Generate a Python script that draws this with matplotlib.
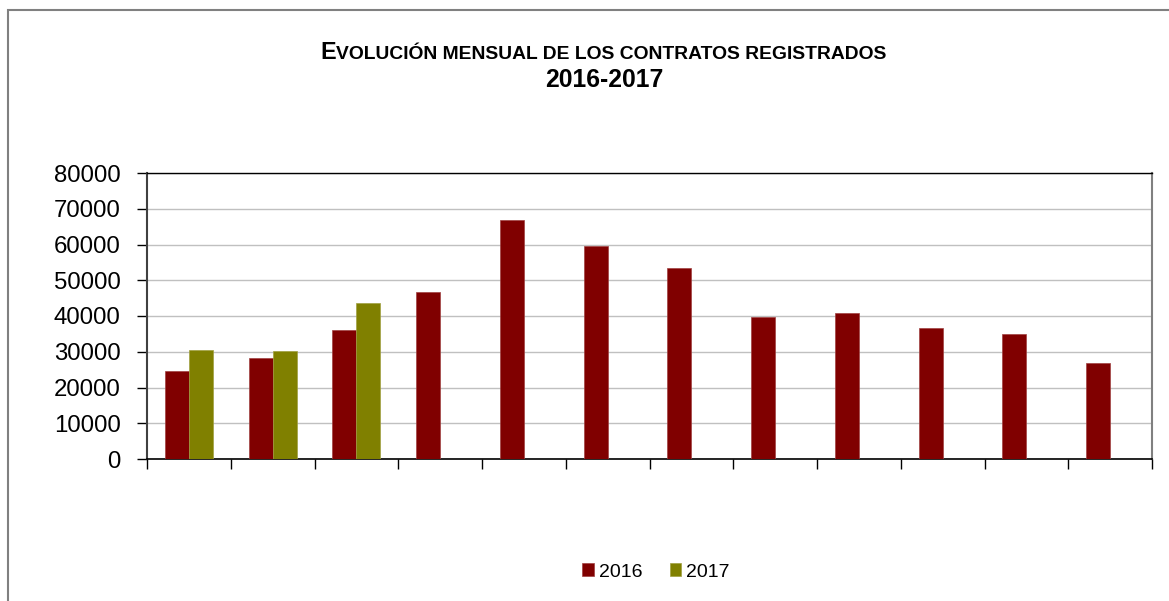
import matplotlib
matplotlib.use("Agg")
import matplotlib.pyplot as plt
import matplotlib.patches as mpatches
import numpy as np

plt.rcParams['font.family'] = ['Liberation Sans', 'DejaVu Sans']

months = ["ene", "feb", "mar", "abr", "may", "jun", "jul", "ago", "sep", "oct", "nov", "dic"]
series_2016 = [24600, 28250, 36200, 46600, 66900, 59700, 53300, 39800, 40750, 36550, 34950, 26750]
series_2017 = [30500, 30300, 43500]
yticks = [0, 10000, 20000, 30000, 40000, 50000, 60000, 70000, 80000]
title_first = "E"
title_rest = "VOLUCIÓN MENSUAL DE LOS CONTRATOS REGISTRADOS"
title_line2 = "2016-2017"
labels = ["2016", "2017"]
colors = ["#800000", "#808000"]

W, H = 1169, 601
fig = plt.figure(figsize=(W / 100, H / 100), dpi=100)
ax = fig.add_axes([147 / W, 1 - 459 / H, (1152 - 147) / W, (459 - 173) / H])

x = np.arange(len(months))
bw = 0.286
ax.bar(x - bw / 2, series_2016, width=bw, color=colors[0], edgecolor="#a04040", linewidth=0.5, label=labels[0], zorder=3)
x17 = np.arange(len(series_2017))
ax.bar(x17 + bw / 2, series_2017, width=bw, color=colors[1], edgecolor="#a0a040", linewidth=0.5, label=labels[1], zorder=3)

ax.set_xlim(-0.5, len(months) - 0.5)
ax.set_ylim(0, 80000)
ax.set_yticks(yticks)
ax.set_yticklabels([str(v) for v in yticks], fontsize=17.3)
ax.set_xticks(np.arange(len(months) + 1) - 0.5)
ax.set_xticklabels([])
ax.tick_params(axis='x', length=7, width=1, direction='out', color='black')
ax.tick_params(axis='y', length=7, width=1, direction='out', color='black', pad=12)
ax.yaxis.grid(True, color="#c0c0c0", linewidth=1, zorder=0)
ax.set_axisbelow(True)
ax.spines['top'].set_color('black')
ax.spines['top'].set_linewidth(1)
ax.spines['bottom'].set_color('black')
ax.spines['bottom'].set_linewidth(1.2)
ax.spines['left'].set_color('#404040')
ax.spines['left'].set_linewidth(1.5)
ax.spines['right'].set_color('#808080')
ax.spines['right'].set_linewidth(1.5)

# Title with small caps effect
renderer = fig.canvas.get_renderer()
y1 = 1 - 59 / H
t1 = fig.text(0, y1, title_first, fontsize=16.8, fontweight='bold', va='baseline', ha='left')
t2 = fig.text(0, y1, title_rest, fontsize=13.9, fontweight='bold', va='baseline', ha='left')
w1 = t1.get_window_extent(renderer).width
w2 = t2.get_window_extent(renderer).width
total = w1 + w2
cx = 603
x0 = cx - total / 2
t1.set_x(x0 / W)
t2.set_x((x0 + w1) / W)
fig.text(604 / W, 1 - 87 / H, title_line2, fontsize=17.8, fontweight='bold', va='baseline', ha='center')

# Legend
fig.legend(loc='center', bbox_to_anchor=(656 / W, 1 - 572 / H), ncol=2, frameon=False,
           fontsize=14, handlelength=0.6, handleheight=0.6, handletextpad=0.25,
           columnspacing=1.4)

# Outer border (cut by image edges)
rect = mpatches.Rectangle((8 / W, -0.2), 1.3, (1 - 10 / H) + 0.2, transform=fig.transFigure,
                          fill=False, edgecolor="#808080", linewidth=1.5)
fig.patches.append(rect)

fig.savefig("out.png", dpi=100)
